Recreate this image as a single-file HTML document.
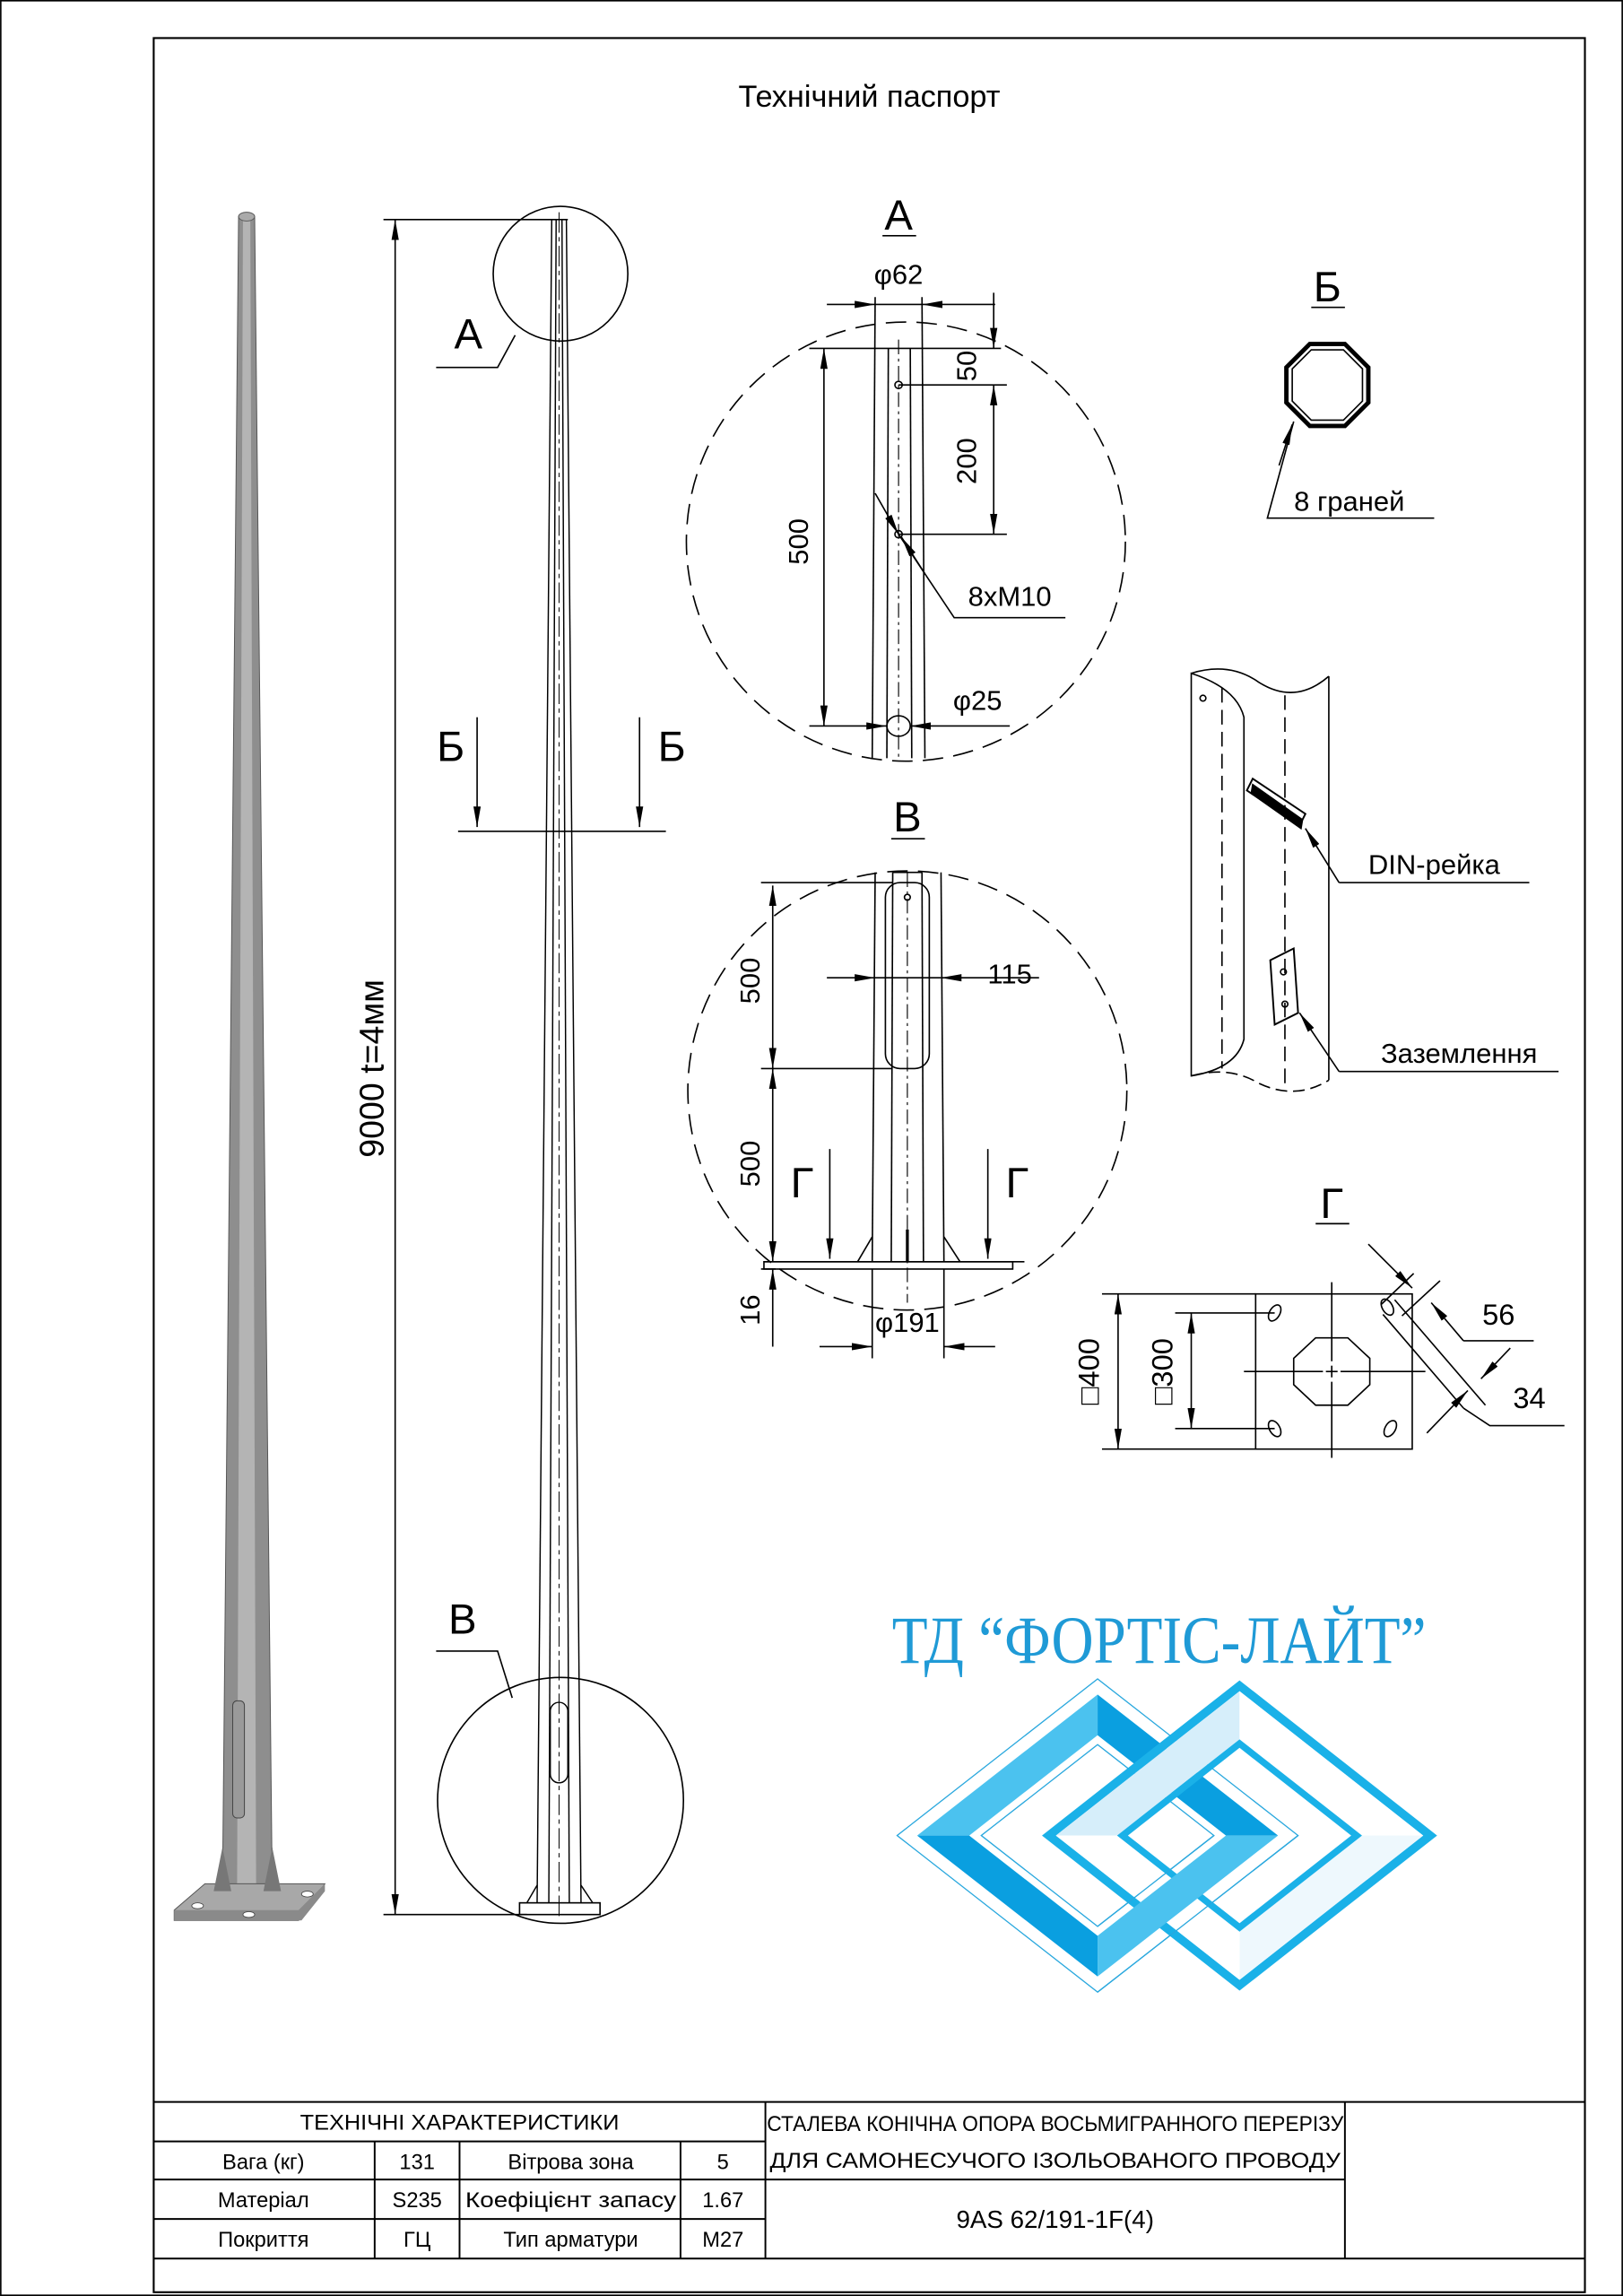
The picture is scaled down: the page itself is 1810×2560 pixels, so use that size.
<!DOCTYPE html>
<html><head><meta charset="utf-8"><style>
html,body{margin:0;padding:0;background:#fff;}
svg{display:block;}
text{font-family:"Liberation Sans","DejaVu Sans",sans-serif;fill:#000;}
</style></head><body>
<svg width="1810" height="2560" viewBox="0 0 1109 1568.6" xmlns="http://www.w3.org/2000/svg">
<defs>
<marker id="ar" markerWidth="14" markerHeight="5" refX="14" refY="2.5" orient="auto-start-reverse" markerUnits="userSpaceOnUse"><path d="M0,0 L14,2.5 L0,5 Z" fill="#000"/></marker>
</defs>
<rect x="0.5" y="0.5" width="1108" height="1567.6" fill="#fff" stroke="#000" stroke-width="1"/>
<rect x="105" y="26" width="978" height="1540" fill="none" stroke="#000" stroke-width="1.3"/>
<text x="594" y="73" font-size="21" text-anchor="middle">Технічний паспорт</text>

<!-- 3D pole -->
<g>
<polygon points="163,148 174,148 186,1290 152,1290" fill="#8e8e8e" stroke="#555" stroke-width="0.6"/>
<polygon points="166,148 171,148 175,1290 162,1290" fill="#b4b4b4"/>
<ellipse cx="168.5" cy="148" rx="5.5" ry="3" fill="#aaa" stroke="#555" stroke-width="0.6"/>
<rect x="159" y="1162" width="8" height="80" rx="3" fill="#9a9a9a" stroke="#444" stroke-width="0.6"/>
<polygon points="119,1305 140,1287 222,1287 204,1312 119,1312" fill="#a8a8a8" stroke="#555" stroke-width="0.6"/>
<polygon points="119,1305 204,1305 222,1287 222,1292 206,1312 119,1312" fill="#8a8a8a"/>
<ellipse cx="135" cy="1302" rx="4" ry="2" fill="#fff" stroke="#444" stroke-width="0.5"/>
<ellipse cx="210" cy="1294" rx="4" ry="2" fill="#fff" stroke="#444" stroke-width="0.5"/>
<ellipse cx="170" cy="1308" rx="4" ry="2" fill="#fff" stroke="#444" stroke-width="0.5"/>
<polygon points="152,1262 146,1292 158,1292" fill="#777"/>
<polygon points="186,1262 192,1292 180,1292" fill="#777"/>
</g>

<!-- main pole -->
<g stroke="#000" stroke-width="0.9" fill="none">
<line x1="377" y1="150" x2="367" y2="1300"/>
<line x1="387" y1="150" x2="397" y2="1300"/>
<line x1="380" y1="150" x2="375" y2="1300"/>
<line x1="384" y1="150" x2="389" y2="1300"/>
<line x1="382" y1="145" x2="382" y2="1312" stroke-dasharray="14,3,3,3" stroke-width="0.6"/>
<rect x="376" y="1163" width="12" height="55" rx="6"/>
<rect x="355" y="1300" width="55" height="8" stroke-width="1"/>
<line x1="360" y1="1300" x2="367" y2="1288"/><line x1="405" y1="1300" x2="397" y2="1288"/>
<line x1="262" y1="150" x2="388" y2="150" stroke-width="1"/>
<line x1="262" y1="1308" x2="360" y2="1308" stroke-width="1"/>
<line x1="270" y1="150" x2="270" y2="1308" stroke-width="1" marker-start="url(#ar)" marker-end="url(#ar)"/>
<circle cx="383" cy="187" r="46" stroke-width="1"/>
<polyline points="352,229 340,251 298,251" stroke-width="1"/>
<circle cx="383" cy="1230" r="84" stroke-width="1"/>
<polyline points="298,1128 340,1128 350,1160" stroke-width="1"/>
<line x1="313" y1="568" x2="455" y2="568" stroke-width="1"/>
<line x1="326" y1="490" x2="326" y2="565" stroke-width="1" marker-end="url(#ar)"/>
<line x1="437" y1="490" x2="437" y2="565" stroke-width="1" marker-end="url(#ar)"/>
</g>
<text x="0" y="0" font-size="23" text-anchor="middle" transform="translate(262,730) rotate(-90)">9000 t=4мм</text>
<text x="320" y="238" font-size="29" text-anchor="middle">А</text>
<text x="316" y="1116" font-size="29" text-anchor="middle">В</text>
<text x="308" y="520" font-size="29" text-anchor="middle">Б</text>
<text x="459" y="520" font-size="29" text-anchor="middle">Б</text>

<!-- Detail A -->
<text x="614" y="157" font-size="29" text-anchor="middle">А</text>
<line x1="603" y1="161" x2="626" y2="161" stroke="#000" stroke-width="1"/>
<g stroke="#000" stroke-width="1" fill="none">
<circle cx="619" cy="370" r="150" stroke-dasharray="14,7"/>
<line x1="598" y1="203" x2="596" y2="518"/>
<line x1="630" y1="203" x2="632" y2="518"/>
<line x1="607" y1="238" x2="606" y2="518"/>
<line x1="622" y1="238" x2="623" y2="518"/>
<line x1="614" y1="232" x2="614" y2="518" stroke-dasharray="10,3,2,3" stroke-width="0.7"/>
<line x1="553" y1="238" x2="684" y2="238"/>
<line x1="565" y1="208" x2="598" y2="208" marker-end="url(#ar)"/>
<line x1="680" y1="208" x2="630" y2="208" marker-end="url(#ar)"/>
<line x1="598" y1="208" x2="630" y2="208"/>
<line x1="679" y1="200" x2="679" y2="238" marker-end="url(#ar)"/>
<line x1="679" y1="263" x2="679" y2="365" marker-start="url(#ar)" marker-end="url(#ar)"/>
<line x1="614" y1="263" x2="688" y2="263"/>
<line x1="614" y1="365" x2="688" y2="365"/>
<circle cx="614" cy="263" r="2.5"/>
<circle cx="614" cy="365" r="2.5"/>
<line x1="563" y1="238" x2="563" y2="496" marker-start="url(#ar)" marker-end="url(#ar)"/>
<line x1="553" y1="496" x2="606" y2="496" marker-end="url(#ar)"/>
<line x1="690" y1="496" x2="622" y2="496" marker-end="url(#ar)"/>
<ellipse cx="614" cy="496" rx="8" ry="7"/>
<line x1="598" y1="337" x2="614" y2="365" marker-end="url(#ar)"/>
<polyline points="614,365 652,422 728,422"/>
<line x1="632" y1="392" x2="616" y2="367" marker-end="url(#ar)"/>
</g>
<text x="614" y="194" font-size="19" text-anchor="middle">φ62</text>
<text font-size="19" text-anchor="middle" transform="translate(667,250) rotate(-90)">50</text>
<text font-size="19" text-anchor="middle" transform="translate(667,315) rotate(-90)">200</text>
<text font-size="19" text-anchor="middle" transform="translate(552,370) rotate(-90)">500</text>
<text x="668" y="485" font-size="19" text-anchor="middle">φ25</text>
<text x="690" y="414" font-size="19" text-anchor="middle">8xM10</text>

<!-- Detail Б -->
<text x="907" y="206" font-size="29" text-anchor="middle">Б</text>
<line x1="896" y1="210" x2="919" y2="210" stroke="#000" stroke-width="1"/>
<polygon points="895,235 919,235 935,251 935,275 919,291 895,291 879,275 879,251" fill="none" stroke="#000" stroke-width="3"/>
<polygon points="896,239 918,239 931,252 931,274 918,287 896,287 883,274 883,252" fill="none" stroke="#000" stroke-width="1"/>
<polyline points="884,288 866,354 980,354" fill="none" stroke="#000" stroke-width="1"/>
<line x1="874" y1="318" x2="883" y2="290" stroke="#000" stroke-width="1" marker-end="url(#ar)"/>
<text x="922" y="349" font-size="19" text-anchor="middle">8 граней</text>

<!-- DIN detail -->
<g stroke="#000" stroke-width="1" fill="none">
<path d="M814,460 Q845,470 850,490 L850,710 Q845,730 814,735 Z"/>
<path d="M814,460 Q840,452 860,466 Q885,482 908,462" />
<path d="M814,735 Q840,728 860,740 Q885,752 908,738" stroke-dasharray="8,4"/>
<line x1="835" y1="470" x2="835" y2="730" stroke-dasharray="10,5"/>
<line x1="878" y1="475" x2="878" y2="742" stroke-dasharray="10,5"/>
<line x1="908" y1="462" x2="908" y2="738"/>
<circle cx="822" cy="477" r="2"/>
<polygon points="852,540 856,532 892,556 888,564" stroke-width="1.2"/>
<polygon points="856,536 890,560 889,566 855,542" fill="#000"/>
<polygon points="868,656 884,648 887,692 871,700" stroke-width="1.2"/>
<circle cx="877" cy="664" r="2"/><circle cx="878" cy="686" r="2"/>
<polyline points="915,603 1045,603"/>
<line x1="915" y1="603" x2="892" y2="566" marker-end="url(#ar)"/>
<polyline points="915,732 1065,732"/>
<line x1="915" y1="732" x2="888" y2="692" marker-end="url(#ar)"/>
</g>
<text x="980" y="597" font-size="19" text-anchor="middle">DIN-рейка</text>
<text x="997" y="726" font-size="19" text-anchor="middle">Заземлення</text>

<!-- Detail В -->
<text x="620" y="568" font-size="29" text-anchor="middle">В</text>
<line x1="609" y1="573" x2="632" y2="573" stroke="#000" stroke-width="1"/>
<g stroke="#000" stroke-width="1" fill="none">
<circle cx="620" cy="745" r="150" stroke-dasharray="14,7"/>
<line x1="598" y1="596" x2="596" y2="862"/>
<line x1="643" y1="596" x2="645" y2="862"/>
<line x1="610" y1="596" x2="609" y2="862"/>
<line x1="630" y1="596" x2="631" y2="862"/>
<line x1="610" y1="596" x2="630" y2="596"/>
<line x1="620" y1="596" x2="620" y2="890" stroke-dasharray="10,3,2,3" stroke-width="0.7"/>
<rect x="605" y="603" width="30" height="127" rx="10"/>
<circle cx="620" cy="613" r="2"/>
<line x1="620" y1="840" x2="620" y2="862" stroke-width="2"/>
<rect x="522" y="862" width="170" height="5"/>
<line x1="522" y1="862" x2="700" y2="862"/>
<line x1="586" y1="862" x2="596" y2="845"/>
<line x1="656" y1="862" x2="645" y2="845"/>
<line x1="520" y1="603" x2="610" y2="603"/>
<line x1="520" y1="730" x2="610" y2="730"/>
<line x1="520" y1="867" x2="530" y2="867"/>
<line x1="528" y1="605" x2="528" y2="730" marker-start="url(#ar)" marker-end="url(#ar)"/>
<line x1="528" y1="730" x2="528" y2="862" marker-start="url(#ar)" marker-end="url(#ar)"/>
<line x1="528" y1="920" x2="528" y2="867" marker-end="url(#ar)"/>
<line x1="565" y1="668" x2="598" y2="668" marker-end="url(#ar)"/>
<line x1="710" y1="668" x2="643" y2="668" marker-end="url(#ar)"/>
<line x1="598" y1="668" x2="643" y2="668"/>
<line x1="596" y1="867" x2="596" y2="928"/>
<line x1="645" y1="867" x2="645" y2="928"/>
<line x1="560" y1="920" x2="596" y2="920" marker-end="url(#ar)"/>
<line x1="680" y1="920" x2="645" y2="920" marker-end="url(#ar)"/>
<line x1="567" y1="785" x2="567" y2="860" marker-end="url(#ar)"/>
<line x1="675" y1="785" x2="675" y2="860" marker-end="url(#ar)"/>
</g>
<text x="690" y="672" font-size="19" text-anchor="middle">115</text>
<text font-size="19" text-anchor="middle" transform="translate(519,670) rotate(-90)">500</text>
<text font-size="19" text-anchor="middle" transform="translate(519,795) rotate(-90)">500</text>
<text font-size="19" text-anchor="middle" transform="translate(519,895) rotate(-90)">16</text>
<text x="620" y="910" font-size="19" text-anchor="middle">φ191</text>
<text x="548" y="818" font-size="29" text-anchor="middle">Г</text>
<text x="695" y="818" font-size="29" text-anchor="middle">Г</text>

<!-- Detail Г -->
<text x="910" y="832" font-size="29" text-anchor="middle">Г</text>
<line x1="899" y1="836" x2="922" y2="836" stroke="#000" stroke-width="1"/>
<g stroke="#000" stroke-width="1" fill="none">
<rect x="858" y="884" width="107" height="106"/>
<line x1="753" y1="884" x2="858" y2="884"/>
<line x1="753" y1="990" x2="858" y2="990"/>
<line x1="803" y1="897" x2="871" y2="897"/>
<line x1="803" y1="976" x2="871" y2="976"/>
<line x1="764" y1="884" x2="764" y2="990" marker-start="url(#ar)" marker-end="url(#ar)"/>
<line x1="814" y1="897" x2="814" y2="976" marker-start="url(#ar)" marker-end="url(#ar)"/>
<polygon points="899,914 921,914 936,928 936,946 921,960 899,960 884,946 884,928"/>
<line x1="850" y1="937" x2="904" y2="937"/><line x1="916" y1="937" x2="974" y2="937"/>
<line x1="910" y1="876" x2="910" y2="930"/><line x1="910" y1="944" x2="910" y2="996"/>
<line x1="906" y1="937" x2="914" y2="937"/><line x1="910" y1="933" x2="910" y2="941"/>
<ellipse cx="871" cy="897" rx="6" ry="3.5" transform="rotate(-60 871 897)"/>
<ellipse cx="871" cy="976" rx="6" ry="3.5" transform="rotate(60 871 976)"/>
<ellipse cx="950" cy="976" rx="6" ry="3.5" transform="rotate(-60 950 976)"/>
<ellipse cx="948" cy="893" rx="6" ry="3.5" transform="rotate(60 948 893)"/>
<line x1="945" y1="898" x2="1000" y2="962"/>
<line x1="953" y1="888" x2="1015" y2="960"/>
<line x1="944" y1="891" x2="966" y2="870"/>
<line x1="958" y1="899" x2="984" y2="875"/>
<line x1="935" y1="850" x2="965" y2="880" marker-end="url(#ar)"/>
<line x1="1000" y1="916" x2="978" y2="890" marker-end="url(#ar)"/>
<polyline points="1000,916 1048,916"/>
<line x1="975" y1="979" x2="1003" y2="950" marker-end="url(#ar)"/>
<line x1="1032" y1="921" x2="1012" y2="942" marker-end="url(#ar)"/>
<polyline points="1000,962 1018,974 1069,974"/>
</g>
<text x="1024" y="905" font-size="20" text-anchor="middle">56</text>
<text x="1045" y="962" font-size="20" text-anchor="middle">34</text>
<g font-size="20" text-anchor="middle">
<text transform="translate(751,937) rotate(-90)">□400</text>
<text transform="translate(801,937) rotate(-90)">□300</text>
</g>

<!-- Logo -->
<text x="792" y="1136" font-size="46" text-anchor="middle" textLength="365" lengthAdjust="spacingAndGlyphs" style="fill:#1f9ad6;font-family:'Liberation Serif','DejaVu Serif',serif;">ТД “ФОРТІС-ЛАЙТ”</text>
<g>
<!-- left diamond -->
<polygon points="613,1254 750,1147 887,1254 750,1361" fill="none" stroke="#2aa8de" stroke-width="0.8"/>
<polygon points="626.7,1254 750,1157.7 750,1185.5 662.3,1254" fill="#4bc2ef"/>
<polygon points="750,1157.7 873.3,1254 837.7,1254 750,1185.5" fill="#0a9fe0"/>
<polygon points="626.7,1254 662.3,1254 750,1322.5 750,1350.3" fill="#0a9fe0"/>
<polygon points="670.5,1254 750,1191.9 829.5,1254 750,1316.1" fill="none" stroke="#2aa8de" stroke-width="0.8"/>
<!-- right diamond rings -->
<path d="M712,1254 L847,1148 L982,1254 L847,1360 Z M721.5,1254 L847,1352.6 L972.5,1254 L847,1155.4 Z" fill="#1ab1e8" fill-rule="evenodd"/>
<polygon points="721.5,1254 847,1155.4 847,1188.3 763.3,1254" fill="#d6eefa"/>
<polygon points="847,1155.4 972.5,1254 930.7,1254 847,1188.3" fill="#fff"/>
<polygon points="972.5,1254 847,1352.6 847,1319.7 930.7,1254" fill="#eef8fd"/>
<polygon points="721.5,1254 763.3,1254 847,1319.7 847,1352.6" fill="#fff"/>
<path d="M763.3,1254 L847,1188.3 L930.7,1254 L847,1319.7 Z M770.7,1254 L847,1313.9 L923.3,1254 L847,1194.1 Z" fill="#1ab1e8" fill-rule="evenodd"/>
<!-- left bottom-right segment on top -->
<polygon points="873.3,1254 837.7,1254 750,1322.5 750,1350.3" fill="#4bc2ef"/>
<line x1="887" y1="1254" x2="750" y2="1361" stroke="#2aa8de" stroke-width="0.8"/>
<line x1="829.5" y1="1254" x2="750" y2="1316.1" stroke="#2aa8de" stroke-width="0.8"/>
</g>

<!-- Table -->
<g stroke="#000" stroke-width="1.2" fill="none">
<line x1="105" y1="1436" x2="1083" y2="1436"/>
<line x1="105" y1="1463" x2="523" y2="1463"/>
<line x1="105" y1="1489" x2="919" y2="1489"/>
<line x1="105" y1="1516" x2="523" y2="1516"/>
<line x1="105" y1="1543" x2="1083" y2="1543"/>
<line x1="256" y1="1463" x2="256" y2="1543"/>
<line x1="314" y1="1463" x2="314" y2="1543"/>
<line x1="465" y1="1463" x2="465" y2="1543"/>
<line x1="523" y1="1436" x2="523" y2="1543"/>
<line x1="919" y1="1436" x2="919" y2="1543"/>
</g>
<g font-size="14.5" text-anchor="middle">
<text x="314" y="1455" textLength="218" lengthAdjust="spacingAndGlyphs">ТЕХНІЧНІ ХАРАКТЕРИСТИКИ</text>
<text x="180" y="1482">Вага (кг)</text>
<text x="285" y="1482">131</text>
<text x="390" y="1482">Вітрова зона</text>
<text x="494" y="1482">5</text>
<text x="180" y="1508">Матеріал</text>
<text x="285" y="1508">S235</text>
<text x="390" y="1508" textLength="144" lengthAdjust="spacingAndGlyphs">Коефіцієнт запасу</text>
<text x="494" y="1508">1.67</text>
<text x="180" y="1535">Покриття</text>
<text x="285" y="1535">ГЦ</text>
<text x="390" y="1535">Тип арматури</text>
<text x="494" y="1535">М27</text>
<text x="721" y="1456" textLength="394" lengthAdjust="spacingAndGlyphs">СТАЛЕВА КОНІЧНА ОПОРА ВОСЬМИГРАННОГО ПЕРЕРІЗУ</text>
<text x="721" y="1481" textLength="390" lengthAdjust="spacingAndGlyphs">ДЛЯ САМОНЕСУЧОГО ІЗОЛЬОВАНОГО ПРОВОДУ</text>
<text x="721" y="1522" font-size="17">9AS 62/191-1F(4)</text>
</g>
</svg>
</body></html>
